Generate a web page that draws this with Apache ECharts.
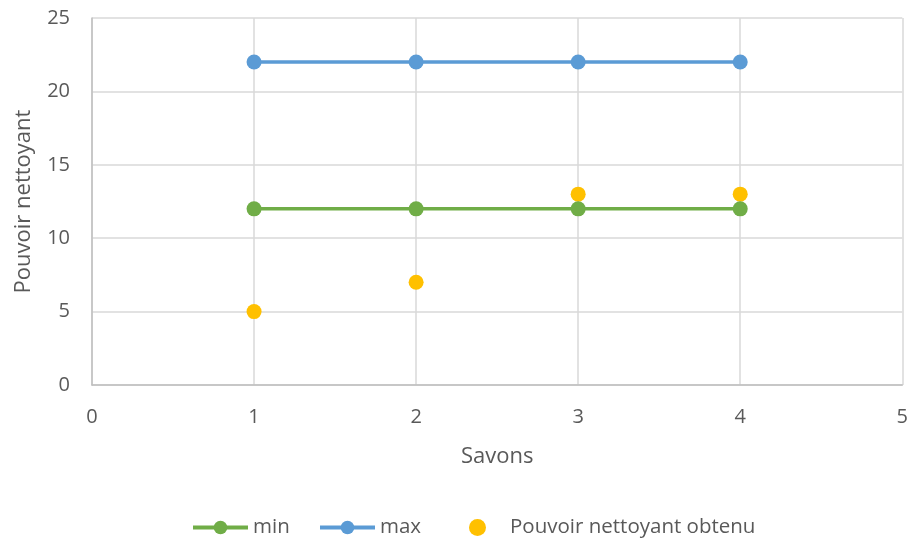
<!DOCTYPE html>
<html>
<head>
<meta charset="utf-8">
<script src="https://cdn.jsdelivr.net/npm/echarts@6/dist/echarts.min.js"></script>
<style>
  html, body { margin: 0; padding: 0; background: #fff; }
  #chart { width: 911px; height: 540px; }
</style>
</head>
<body>
<div id="chart"></div>
<script>
// Soap samples (x) and cleaning power values
const savons = [1, 2, 3, 4];
const minValues = [12, 12, 12, 12];
const maxValues = [22, 22, 22, 22];
const obtenuValues = [5, 7, 13, 13];

const xTicks = { min: 0, max: 5, interval: 1 };
const yTicks = { min: 0, max: 25, interval: 5 };

const seriesNames = ['min', 'max', 'Pouvoir nettoyant obtenu'];

const textColor = '#595959';
const fontFamily = 'Open Sans, Noto Sans, sans-serif';

const pairs = (xs, ys) => xs.map((x, i) => [x, ys[i]]);

// one legend entry per component so each can sit at its own spot
const legendEntry = (name, left) => ({
  bottom: 2,
  left: left,
  padding: 0,
  itemWidth: 55,
  itemHeight: 17,
  lineStyle: { width: 4 },
  textStyle: { fontSize: 20.5, color: textColor, fontFamily: fontFamily },
  data: [name]
});

const chart = echarts.init(document.getElementById('chart'));
chart.setOption({
  animation: false,
  textStyle: { fontFamily: fontFamily, color: textColor },
  grid: { left: 92, right: 8, top: 18, bottom: 155 },
  legend: [
    legendEntry(seriesNames[0], 191),
    legendEntry(seriesNames[1], 318),
    legendEntry(seriesNames[2], 469)
  ],
  xAxis: {
    type: 'value',
    min: xTicks.min, max: xTicks.max, interval: xTicks.interval,
    name: 'Savons',
    nameLocation: 'middle',
    nameGap: 61,
    nameTextStyle: { fontSize: 22, color: textColor },
    axisLine: { lineStyle: { color: '#bfbfbf', width: 1.5 } },
    axisTick: { show: false },
    axisLabel: { fontSize: 20, color: textColor, margin: 22 },
    splitLine: { show: true, lineStyle: { color: '#d9d9d9', width: 1.5 } }
  },
  yAxis: {
    type: 'value',
    min: yTicks.min, max: yTicks.max, interval: yTicks.interval,
    name: 'Pouvoir nettoyant',
    nameLocation: 'middle',
    nameGap: 57,
    nameTextStyle: { fontSize: 22, color: textColor },
    axisLine: { show: true, lineStyle: { color: '#bfbfbf', width: 1.5 } },
    axisTick: { show: false },
    axisLabel: { fontSize: 20, color: textColor, margin: 22 },
    splitLine: { show: true, lineStyle: { color: '#d9d9d9', width: 1.5 } }
  },
  series: [
    {
      name: seriesNames[0],
      type: 'line',
      data: pairs(savons, minValues),
      symbol: 'circle',
      symbolSize: 15,
      itemStyle: { color: '#70ad47' },
      lineStyle: { color: '#70ad47', width: 3.5 }
    },
    {
      name: seriesNames[1],
      type: 'line',
      data: pairs(savons, maxValues),
      symbol: 'circle',
      symbolSize: 15,
      itemStyle: { color: '#5b9bd5' },
      lineStyle: { color: '#5b9bd5', width: 3.5 }
    },
    {
      name: seriesNames[2],
      type: 'scatter',
      data: pairs(savons, obtenuValues),
      symbol: 'circle',
      symbolSize: 15,
      itemStyle: { color: '#ffc000', opacity: 1 }
    }
  ]
});
</script>
</body>
</html>
